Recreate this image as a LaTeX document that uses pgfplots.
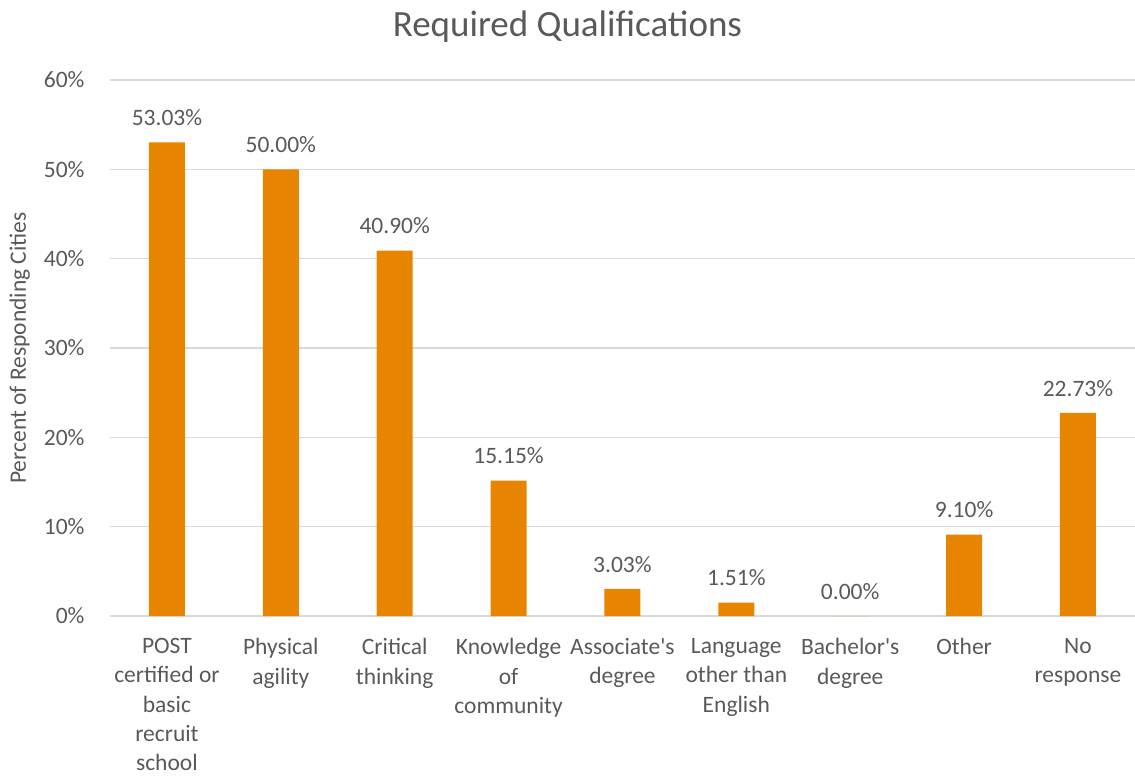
\documentclass[border=0pt]{standalone}
\usepackage{pgfplots}
\pgfplotsset{compat=1.18}
\usepackage{fontspec}
\setmainfont{Carlito}
\definecolor{barc}{HTML}{E88500}
\definecolor{txt}{HTML}{595959}
\definecolor{gridc}{HTML}{D9D9D9}
\begin{document}
\begin{tikzpicture}
\path[use as bounding box] (-110pt,-160pt) rectangle (1025pt,616pt);
\begin{axis}[
  at={(0,0)}, anchor=south west,
  scale only axis, width=1025pt, height=536pt,
  ybar, bar width=36pt,
  xmin=-0.5, xmax=8.5, ymin=0, ymax=60,
  xtick=data,
  xticklabels={{POST\\certified or\\basic\\recruit\\school},{Physical\\agility},{Critical\\thinking},{Knowledge\\of\\community},{Associate\textquotesingle s\\degree},{Language\\other than\\English},{Bachelor\textquotesingle s\\degree},{Other},{No\\response}},
  xticklabel style={align=center, font=\fontsize{23.5}{29.2}\selectfont, text=txt, yshift=-19pt},
  ytick={0,10,...,60},
  yticklabel={\pgfmathprintnumber{\tick}\%},
  yticklabel style={font=\fontsize{23.5}{28}\selectfont, text=txt, xshift=-22pt},
  /pgf/number format/assume math mode=true,
  ymajorgrids, grid style={gridc, line width=1.3pt},
  axis x line*=bottom, axis y line*=left,
  y axis line style={draw=none},
  x axis line style={gridc, line width=1.3pt},
  major tick length=0pt,
  ylabel={Percent of Responding Cities},
  ylabel style={font=\fontsize{23.5}{28}\selectfont, text=txt, yshift=7pt},
  title={Required Qualifications},
  title style={font=\fontsize{37}{40}\selectfont, text=txt, xshift=-55pt, yshift=28pt},
  nodes near coords={\pgfmathprintnumber[fixed,fixed zerofill,precision=2]{\pgfplotspointmeta}\%},
  every node near coord/.append style={font=\fontsize{23.5}{28}\selectfont, text=txt, yshift=13pt},
  clip=false,
]
\addplot[fill=barc, draw=none] coordinates {(0,53.03) (1,50.00) (2,40.90) (3,15.15) (4,3.03) (5,1.51) (6,0.00) (7,9.10) (8,22.73)};
\end{axis}
\end{tikzpicture}
\end{document}
